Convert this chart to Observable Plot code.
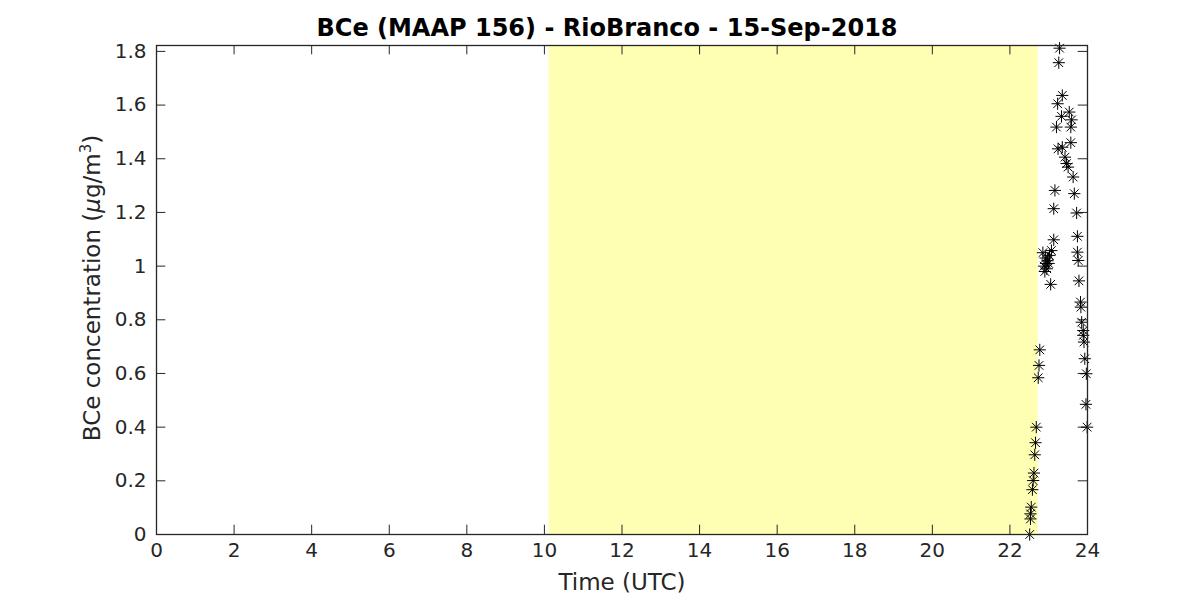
<!DOCTYPE html>
<html><head><meta charset="utf-8">
<script src="https://cdn.jsdelivr.net/npm/d3@7"></script>
<script src="https://cdn.jsdelivr.net/npm/@observablehq/plot@0.6"></script>
<style>body{margin:0;background:#fff;}</style>
</head><body><div id="chart"></div>
<script>
const title = "BCe (MAAP 156) - RioBranco - 15-Sep-2018";
const xLabel = "Time (UTC)";
const yLabel = "BCe concentration (µg/m³)";
const timeUTC = [22.51,22.53,22.53,22.55,22.58,22.60,22.62,22.64,22.66,22.68,
  22.73,22.75,22.77,
  22.85,22.88,22.90,22.92,22.93,22.95,22.97,23.00,23.02,23.05,23.07,23.13,23.13,23.16,23.20,23.24,23.23,23.26,23.28,
  23.33,23.35,23.35,23.42,23.46,23.50,23.53,23.57,23.57,23.59,23.63,23.66,23.72,
  23.74,23.74,23.76,23.78,23.82,23.83,23.85,23.89,23.89,23.91,23.93,23.97,23.96,23.99];
const bce = [0.00,0.058,0.077,0.102,0.167,0.201,0.229,0.297,0.342,0.40,
  0.584,0.63,0.688,
  1.05,1.00,0.98,1.03,1.01,0.99,1.02,1.01,1.04,0.932,1.058,1.098,1.214,1.282,1.518,1.437,1.605,1.758,1.812,
  1.558,1.636,1.443,1.406,1.382,1.369,1.574,1.518,1.46,1.545,1.332,1.27,1.198,
  1.111,1.052,1.021,0.945,0.866,0.847,0.791,0.76,0.742,0.717,0.655,0.599,0.485,0.40];
const xTicks = [0,2,4,6,8,10,12,14,16,18,20,22,24];
const yTicks = [0,0.2,0.4,0.6,0.8,1,1.2,1.4,1.6,1.8];
const shade = [{start:10.12, end:22.73}];
const yMax = 1.822;

const data = timeUTC.map((t,i)=>({t, v:bce[i]}));
const ink = "#262626";
const tx = 0.24, ty = 0.0347;

const plot = Plot.plot({
  width:1200, height:600,
  marginLeft:156, marginRight:113, marginTop:45, marginBottom:66,
  style:{fontFamily:"DejaVu Sans, sans-serif", fontSize:"20px", color:ink, background:"#fff"},
  x:{domain:[0,24]},
  y:{domain:[0,yMax]},
  marks:[
    Plot.rect(shade,{x1:"start",x2:"end",y1:0,y2:yMax,fill:"#ffffb3"}),
    Plot.ruleX(xTicks,{x:d=>d,y1:0,y2:ty,stroke:ink}),
    Plot.ruleX(xTicks,{x:d=>d,y1:yMax-ty,y2:yMax,stroke:ink}),
    Plot.ruleY(yTicks,{y:d=>d,x1:0,x2:tx,stroke:ink}),
    Plot.ruleY(yTicks,{y:d=>d,x1:24-tx,x2:24,stroke:ink}),
    Plot.dot(data,{x:"t",y:"v",symbol:"plus",r:4,stroke:"#000",strokeWidth:1}),
    Plot.dot(data,{x:"t",y:"v",symbol:"times",r:4,stroke:"#000",strokeWidth:1}),
    Plot.frame({stroke:ink,strokeWidth:1.3}),
    Plot.axisX(xTicks,{tickSize:0,tickPadding:8,label:null,fontSize:20,tickFormat:d=>String(d)}),
    Plot.axisY(yTicks,{tickSize:0,tickPadding:10,label:null,fontSize:20,tickFormat:d=>String(+d.toFixed(1))}),
    Plot.text([xLabel],{frameAnchor:"bottom",lineAnchor:"middle",dy:48,fontSize:23,fill:ink}),
    Plot.text([yLabel],{frameAnchor:"left",lineAnchor:"middle",dx:-64,dy:-2,rotate:-90,fontSize:23,fill:ink}),
    Plot.text([title],{frameAnchor:"top",lineAnchor:"middle",dx:-15,dy:-17,fontSize:24,fontWeight:"bold",fill:"#000"})
  ]
});
document.getElementById("chart").appendChild(plot);
// style the y label as in the reference: italic mu, raised superscript 3
for (const t of plot.querySelectorAll("text")) {
  if (t.textContent === yLabel) {
    const ns = "http://www.w3.org/2000/svg";
    while (t.firstChild) t.removeChild(t.firstChild);
    const parts = [["BCe concentration (",{}],["µ",{"font-style":"italic"}],["g/m",{}],["3",{"font-size":"15px",dy:"-0.6em"}],[")",{dy:"0.4em"}]];
    for (const [s,attrs] of parts) {
      const sp = document.createElementNS(ns,"tspan");
      for (const k in attrs) sp.setAttribute(k, attrs[k]);
      sp.textContent = s;
      t.appendChild(sp);
    }
    t.setAttribute("text-anchor","start");
    const len = t.getComputedTextLength();
    t.setAttribute("x", -len/2);
  }
}
</script>
</body></html>
